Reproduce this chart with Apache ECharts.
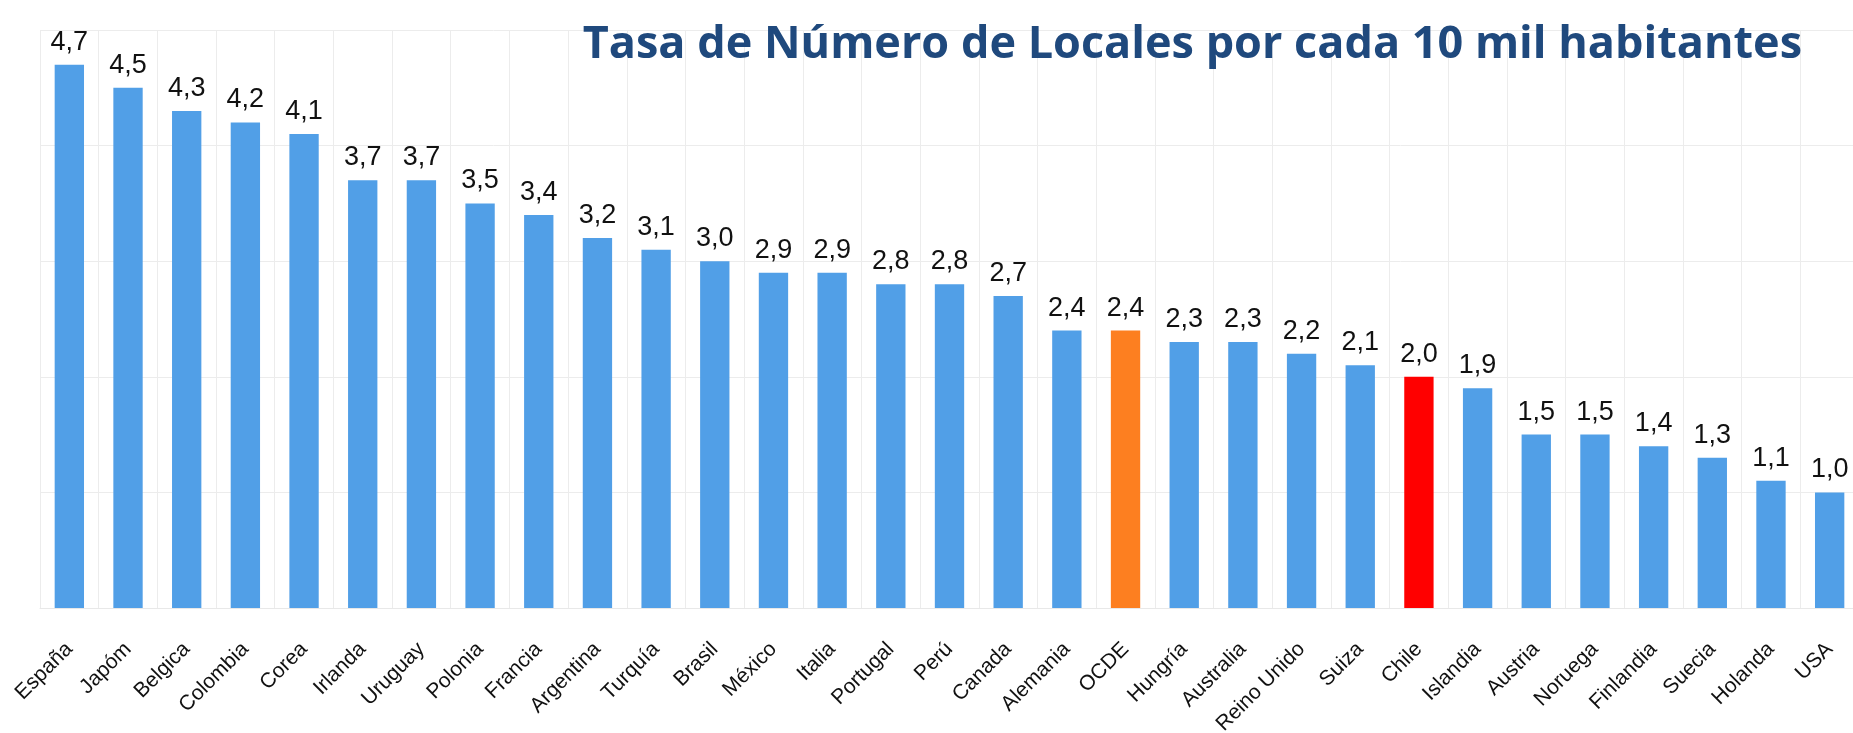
<!DOCTYPE html>
<html>
<head>
<meta charset="utf-8">
<script src="https://cdn.jsdelivr.net/npm/echarts@6/dist/echarts.min.js"></script>
<style>
  html, body { margin: 0; padding: 0; background: #fff; }
  #container { width: 1853px; height: 733px; }
</style>
</head>
<body>
<div id="container"></div>
<script>
"use strict";

// datos: tasa de locales por cada 10 mil habitantes
const paises = ["España", "Japóm", "Belgica", "Colombia", "Corea", "Irlanda", "Uruguay", "Polonia",
  "Francia", "Argentina", "Turquía", "Brasil", "México", "Italia", "Portugal", "Perú", "Canada",
  "Alemania", "OCDE", "Hungría", "Australia", "Reino Unido", "Suiza", "Chile", "Islandia",
  "Austria", "Noruega", "Finlandia", "Suecia", "Holanda", "USA"];
const tasas = [4.7, 4.5, 4.3, 4.2, 4.1, 3.7, 3.7, 3.5, 3.4, 3.2, 3.1, 3.0, 2.9, 2.9, 2.8, 2.8, 2.7,
  2.4, 2.4, 2.3, 2.3, 2.2, 2.1, 2.0, 1.9, 1.5, 1.5, 1.4, 1.3, 1.1, 1.0];
const destacados = { "OCDE": '#FD7F20', "Chile": '#FF0000' };

let myChart = echarts.init(document.getElementById('container'));

let option = {
  animation: false,
  title: {
    text: "Tasa de Número de Locales por cada 10 mil habitantes",
    right: 46,
    top: 18,
    textStyle: {
      fontFamily: 'Open Sans',
      fontWeight: 'bold',
      fontSize: 45,
      color: '#1F497D',
    },
  },
  grid: {
    left: 40,
    top: 30,
    width: 1819,
    height: 578,
    outerBoundsMode: 'none',
    containLabel: false,
  },
  xAxis: {
    type: 'category',
    data: paises,
    axisLine: { lineStyle: { color: '#e8e8e8' } },
    axisTick: { show: false },
    splitLine: {
      show: true,
      interval: 0,
      lineStyle: { color: '#ececec' },
    },
    axisLabel: {
      interval: 0,
      rotate: 45,
      margin: 38,
      fontFamily: 'Liberation Sans',
      fontSize: 21,
      color: '#111',
    },
  },
  yAxis: {
    type: 'value',
    min: 0,
    max: 5,
    interval: 1,
    axisLabel: { show: false },
    axisLine: { show: false },
    axisTick: { show: false },
    splitLine: { lineStyle: { color: '#ececec' } },
  },
  series: [
    {
      type: 'bar',
      barWidth: '50%',
      data: tasas.map((v, i) => ({
        value: v,
        itemStyle: { color: destacados[paises[i]] || '#519FE7' },
      })),
      label: {
        show: true,
        position: 'top',
        distance: 9,
        fontFamily: 'Liberation Sans',
        fontSize: 27,
        color: '#111',
        formatter: p => p.value.toFixed(1).replace('.', ','),
      },
    },
  ],
};

myChart.setOption(option);
</script>
</body>
</html>
